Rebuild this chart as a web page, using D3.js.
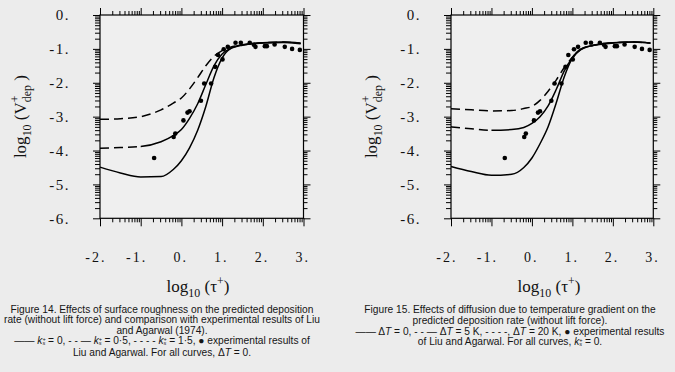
<!DOCTYPE html>
<html>
<head>
<meta charset="utf-8">
<script src="https://cdn.jsdelivr.net/npm/d3@7"></script>
<style>
  body { margin: 0; background: #ececec; }
  svg { display: block; }
  .serif { font-family: "Liberation Serif", "Times New Roman", serif; }
  .sans { font-family: "Liberation Sans", Arial, sans-serif; }
</style>
</head>
<body>
<svg id="fig" width="675" height="372"></svg>
<script>
// x = log10(tau+), y = log10(V+dep)
const curveX = [-2, -1.5, -1, -0.5, -0.2, 0, 0.2, 0.4, 0.6, 0.8, 1.0, 1.2, 1.5, 2.0, 2.5, 2.93];

// Figure 14: surface roughness
const k0  = [-4.49, -4.66, -4.78, -4.77, -4.56, -4.3, -3.92, -3.4, -2.7, -1.85, -1.27, -1.0, -0.89, -0.83, -0.81, -0.85];
const k05 = [-3.93, -3.91, -3.88, -3.74, -3.56, -3.38, -3.05, -2.62, -2.05, -1.5, -1.15, -0.99, -0.88, -0.82, -0.8, -0.83];
const k15 = [-3.08, -3.06, -3.0, -2.8, -2.6, -2.45, -2.18, -1.85, -1.5, -1.22, -1.05, -0.95, -0.88, -0.82, -0.8, -0.83];

// Figure 15: temperature gradient
const dT0  = [-4.47, -4.62, -4.73, -4.7, -4.5, -4.22, -3.8, -3.3, -2.6, -1.82, -1.27, -1.01, -0.9, -0.83, -0.8, -0.83];
const dT5  = [-3.3, -3.36, -3.4, -3.38, -3.32, -3.2, -3.0, -2.68, -2.2, -1.65, -1.27, -1.03, -0.9, -0.82, -0.8, -0.83];
const dT20 = [-2.77, -2.8, -2.83, -2.82, -2.76, -2.7, -2.52, -2.25, -1.92, -1.55, -1.25, -1.02, -0.9, -0.82, -0.8, -0.83];

// Liu and Agarwal (1974) experiments
const expX = [-0.67, -0.19, -0.15, 0.05, 0.15, 0.2, 0.48, 0.56, 0.73, 0.83, 0.9, 1.01, 1.04, 1.14, 1.33, 1.46, 1.68, 1.78, 1.82, 2.05, 2.1, 2.29, 2.54, 2.72, 2.91];
const expY = [-4.22, -3.6, -3.5, -3.11, -2.88, -2.84, -2.53, -2.02, -2.02, -1.53, -1.18, -1.31, -1.01, -0.94, -0.82, -0.82, -0.82, -0.88, -0.94, -0.92, -0.92, -0.87, -0.94, -1.0, -1.03];

const xTicks = [-2, -1, 0, 1, 2, 3];
const xTickLabels = ["-2.", "-1.", "0.", "1.", "2.", "3."];
const yTicks = [0, -1, -2, -3, -4, -5, -6];
const yTickLabels = ["0.", "-1.", "-2.", "-3.", "-4.", "-5.", "-6."];

const caption14 = [
  [["Figure 14. Effects of surface roughness on the predicted deposition", "n"]],
  [["rate (without lift force) and comparison with experimental results of Liu", "n"]],
  [["and Agarwal (1974).", "n"]],
  [["—— ", "n"], ["k", "i"], ["+", "sup"], ["s", "stk"], [" = 0, - - — ", "n"], ["k", "i"], ["+", "sup"], ["s", "stk"],
   [" = 0·5, - - - - ", "n"], ["k", "i"], ["+", "sup"], ["s", "stk"], [" = 1·5, ● experimental results of", "n"]],
  [["Liu and Agarwal. For all curves, Δ", "n"], ["T", "i"], [" = 0.", "n"]]
];
const caption15 = [
  [["Figure 15. Effects of diffusion due to temperature gradient on the", "n"]],
  [["predicted deposition rate (without lift force).", "n"]],
  [["—— Δ", "n"], ["T", "i"], [" = 0, - - — Δ", "n"], ["T", "i"], [" = 5 K, - - - -, Δ", "n"], ["T", "i"], [" = 20 K, ● experimental results", "n"]],
  [["of Liu and Agarwal. For all curves, ", "n"], ["k", "i"], ["+", "sup"], ["s", "stk"], [" = 0.", "n"]]
];

const svg = d3.select("#fig");

// writes rich text: italics, super/subscripts, a subscript stacked under the superscript
function rich(text, segs, size, small = 0.7, up = 0.4, down = 0.32) {
  let shift = 0, prev = null;
  segs.forEach(([s, kind]) => {
    const t = text.append("tspan").text(s);
    let target = 0, fs = size;
    if (kind === "sup") { target = -size * up; fs = size * small; }
    if (kind === "sub" || kind === "stk" || kind === "stkr") { target = size * down; fs = size * small; }
    t.attr("font-size", fs).attr("dy", target - shift);
    if (kind === "i" || kind === "stk") t.attr("font-style", "italic");
    if ((kind === "stk" || kind === "stkr") && prev) t.attr("dx", -prev.node().getComputedTextLength());
    shift = target;
    prev = t;
  });
  if (shift) text.append("tspan").attr("dy", -shift).text("");
}

function panel(x0, x1, series, dashedIdx, splitIdx) {
  const x = d3.scaleLinear().domain([-2, 3]).range([x0, x1]);
  const y = d3.scaleLinear().domain([-6, 0]).range([218.3, 15]);
  const g = svg.append("g");

  g.append("rect").attr("x", x0).attr("y", y(0)).attr("width", x1 - x0).attr("height", y(-6) - y(0))
    .attr("fill", "#efefef").attr("stroke", "#000").attr("stroke-width", 1.2);

  const minorX = [], minorY = [];
  for (let d = -2; d < 3; d++) for (let m = 2; m < 10; m++) minorX.push(d + Math.log10(m));
  for (let d = -6; d < 0; d++) for (let m = 2; m < 10; m++) minorY.push(d + Math.log10(m));

  const clean = s => { s.select(".domain").remove(); s.selectAll("line").attr("stroke", "#000"); };
  g.append("g").attr("transform", `translate(0,${y(0)})`)
    .call(d3.axisTop(x).tickValues(minorX).tickSize(4).tickFormat("")).call(clean);
  g.append("g").attr("transform", `translate(0,${y(0)})`)
    .call(d3.axisTop(x).tickValues(xTicks).tickSize(7).tickFormat("")).call(clean);
  g.append("g").attr("transform", `translate(0,${y(-6)})`)
    .call(d3.axisBottom(x).tickValues(minorX).tickSize(4).tickFormat("")).call(clean);
  const bx = g.append("g").attr("transform", `translate(0,${y(-6)})`)
    .call(d3.axisBottom(x).tickValues(xTicks).tickSize(8).tickPadding(26)
      .tickFormat((d, i) => xTickLabels[i])).call(clean);
  bx.selectAll("text").attr("class", "serif").attr("font-size", 14).attr("fill", "#111")
    .attr("letter-spacing", 2).attr("text-anchor", "end").attr("dx", 6);

  g.append("g").attr("transform", `translate(${x0},0)`)
    .call(d3.axisLeft(y).tickValues(minorY).tickSize(5).tickFormat("")).call(clean);
  const ly = g.append("g").attr("transform", `translate(${x0},0)`)
    .call(d3.axisLeft(y).tickValues(yTicks).tickSize(7).tickPadding(23)
      .tickFormat((d, i) => yTickLabels[i])).call(clean);
  ly.selectAll("text").attr("class", "serif").attr("font-size", 15).attr("fill", "#111")
    .attr("letter-spacing", 1.5);
  g.append("g").attr("transform", `translate(${x1},0)`)
    .call(d3.axisRight(y).tickValues(minorY).tickSize(4).tickFormat("")).call(clean);
  g.append("g").attr("transform", `translate(${x1},0)`)
    .call(d3.axisRight(y).tickValues(yTicks).tickSize(7).tickFormat("")).call(clean);

  const id = "c" + Math.round(x0);
  const defs = g.append("defs");
  defs.append("clipPath").attr("id", id + "a").append("rect")
    .attr("x", x0 - 5).attr("y", 0).attr("width", x(-1) - x0 + 5).attr("height", 300);
  defs.append("clipPath").attr("id", id + "b").append("rect")
    .attr("x", x(-1)).attr("y", 0).attr("width", x1 - x(-1) + 5).attr("height", 300);

  const line = d3.line().x((d, i) => x(curveX[i])).y(d => y(d)).curve(d3.curveMonotoneX);
  series.forEach((s, i) => {
    const common = p => p.attr("d", line(s)).attr("fill", "none").attr("stroke", "#000")
      .attr("stroke-width", 1.5).attr("stroke-linejoin", "round");
    if (i === splitIdx) {
      g.append("path").call(common).attr("stroke-dasharray", "9,5").attr("clip-path", `url(#${id}a)`);
      g.append("path").call(common).attr("clip-path", `url(#${id}b)`);
    } else {
      g.append("path").call(common).attr("stroke-dasharray", i === dashedIdx ? "9,5" : null);
    }
  });

  g.selectAll("circle.exp").data(expX).join("circle").attr("class", "exp")
    .attr("cx", d => x(d)).attr("cy", (d, i) => y(expY[i])).attr("r", 2.3).attr("fill", "#000");

  // axis titles
  const yt = g.append("text").attr("class", "serif").attr("font-size", 17).attr("fill", "#111")
    .attr("text-anchor", "middle").attr("transform", `translate(${x0 - 74},${(y(0) + y(-6)) / 2}) rotate(-90)`);
  rich(yt, [["log", "n"], ["10", "sub"], [" (V", "n"], ["+", "sup"], ["dep", "stkr"], [" )", "n"]], 17);
  const xt = g.append("text").attr("class", "serif").attr("font-size", 17).attr("fill", "#111")
    .attr("text-anchor", "middle").attr("x", x0 + 98).attr("y", 292);
  rich(xt, [["log", "n"], ["10", "sub"], [" (τ", "n"], ["+", "sup"], [")", "n"]], 17);
}

panel(100, 303.5, [k0, k05, k15], 2, 1);
panel(451, 653.3, [dT0, dT5, dT20], 2, 1);

function caption(lines, cx, baselines) {
  lines.forEach((segs, i) => {
    const t = svg.append("text").attr("class", "sans").attr("font-size", 10.2).attr("fill", "#151515")
      .attr("text-anchor", "middle").attr("x", cx).attr("y", baselines[i]);
    rich(t, segs, 10.2, 0.55, 0.3, 0.14);
  });
}
caption(caption14, 162, [312.5, 323, 333.5, 344, 356]);
caption(caption15, 510, [313, 323.5, 334.5, 345]);
</script>
</body>
</html>
